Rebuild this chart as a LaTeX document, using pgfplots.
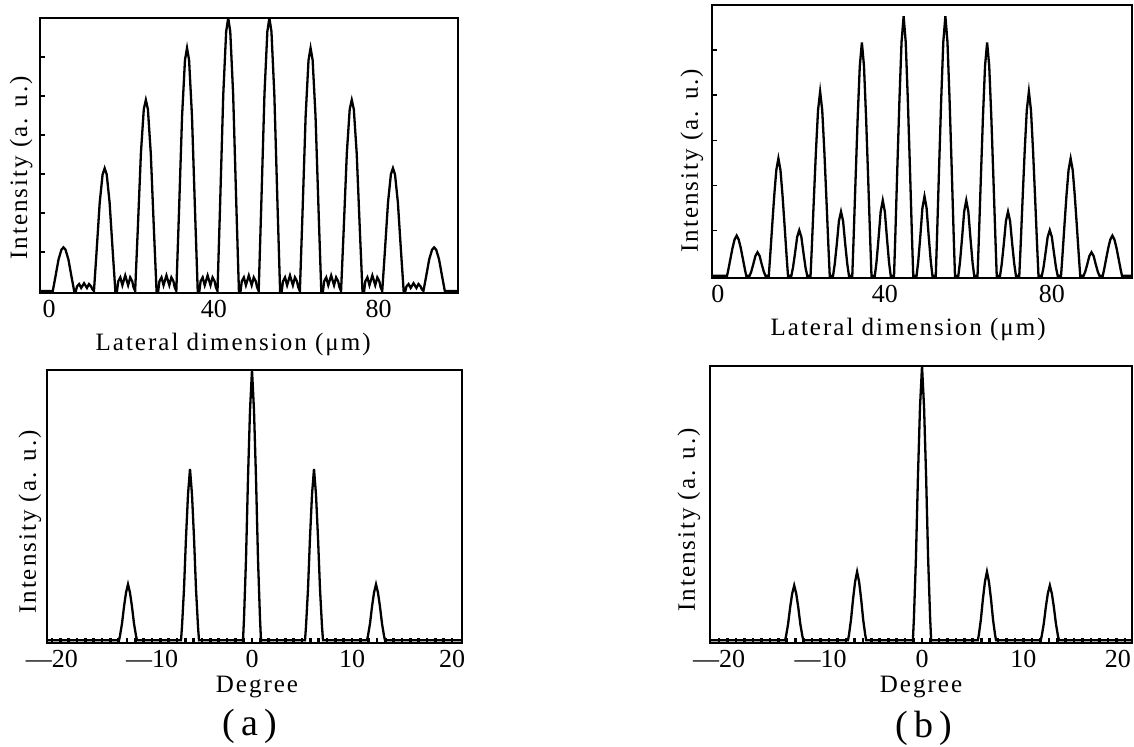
\documentclass[border=0pt]{standalone}
\usepackage{pgfplots}
\pgfplotsset{compat=1.18}
\usepackage{fontspec}
\setmainfont{Liberation Serif}
\newfontfamily\lblfont[LetterSpace=8]{Liberation Serif}
\pgfplotsset{
  panel/.style={
    scale only axis, anchor=south west,
    axis line style={line width=1.4pt},
    tick align=inside, tick pos=left,
    every tick/.style={black, line width=0.8pt},
    major tick length=2.5pt, minor tick length=2.5pt,
    tick label style={font=\fontsize{13}{13}\selectfont},
    label style={font=\lblfont\fontsize{12.5}{13}\selectfont},
    clip=true,
  },
  degpanel/.style={
    every minor tick/.style={black, line width=1.3pt},
    every major tick/.style={black, line width=1.3pt},
  },
  curve/.style={black, line width=1.15pt, no marks},
}
\begin{document}
\begin{tikzpicture}
\path[use as bounding box] (0,0) rectangle (567pt,373pt);

% ---------------- top left ----------------
\begin{axis}[panel, at={(20pt,226.5pt)}, width=209pt, height=137.5pt,
  xmin=-2.2, xmax=99.3, ymin=-0.05, ymax=7,
  xtick={0,40,80}, xticklabels={0,40,80}, x tick style={draw=none},
  ytick={1,2,3,4,5,6}, yticklabels={},
  xlabel={Lateral dimension (μm)},
  ylabel={Intensity (a. u.)},
  x label style={at={(axis description cs:0.462,0)}, anchor=center, yshift=-25.5pt},
  y label style={at={(axis description cs:-0.045,0.455)}, anchor=center},
]
\addplot[curve] coordinates {
(-2.2,0)
(0.9,0)(1.5,0.34)(2.3,0.81)(3,1.06)(3.5,1.12)(4,1.06)(4.7,0.81)(5.5,0.34)(6.1,0)
(6.5,0)(6.8,0.12)(7.3,0.18)(7.8,0.08)(8.5,0.2)(9.2,0.08)(9.7,0.18)(10.2,0.12)(10.5,0.05)
(10.9,0)(11.5,0.95)(12.3,2.27)(13,2.99)(13.5,3.15)(14,2.99)(14.7,2.27)(15.5,0.95)(16.1,0)
(16.5,0)(16.8,0.25)(17.3,0.35)(17.8,0.15)(18.5,0.4)(19.2,0.15)(19.7,0.35)(20.2,0.25)(20.5,0.1)
(20.9,0)(21.5,1.47)(22.3,3.53)(23,4.66)(23.5,4.9)(24,4.66)(24.7,3.53)(25.5,1.47)(26.1,0)
(26.5,0)(26.8,0.25)(27.3,0.35)(27.8,0.15)(28.5,0.4)(29.2,0.15)(29.7,0.35)(30.2,0.25)(30.5,0.1)
(30.9,0)(31.5,1.87)(32.3,4.49)(33,5.92)(33.5,6.23)(34,5.92)(34.7,4.49)(35.5,1.87)(36.1,0)
(36.5,0)(36.8,0.25)(37.3,0.35)(37.8,0.15)(38.5,0.4)(39.2,0.15)(39.7,0.35)(40.2,0.25)(40.5,0.1)
(40.9,0)(41.5,2.1)(42.3,5.04)(43,6.65)(43.5,7)(44,6.65)(44.7,5.04)(45.5,2.1)(46.1,0)
(46.5,0)(46.8,0.25)(47.3,0.35)(47.8,0.15)(48.5,0.4)(49.2,0.15)(49.7,0.35)(50.2,0.25)(50.5,0.1)
(50.9,0)(51.5,2.1)(52.3,5.04)(53,6.65)(53.5,7)(54,6.65)(54.7,5.04)(55.5,2.1)(56.1,0)
(56.5,0)(56.8,0.25)(57.3,0.35)(57.8,0.15)(58.5,0.4)(59.2,0.15)(59.7,0.35)(60.2,0.25)(60.5,0.1)
(60.9,0)(61.5,1.87)(62.3,4.49)(63,5.92)(63.5,6.23)(64,5.92)(64.7,4.49)(65.5,1.87)(66.1,0)
(66.5,0)(66.8,0.25)(67.3,0.35)(67.8,0.15)(68.5,0.4)(69.2,0.15)(69.7,0.35)(70.2,0.25)(70.5,0.1)
(70.9,0)(71.5,1.47)(72.3,3.53)(73,4.66)(73.5,4.9)(74,4.66)(74.7,3.53)(75.5,1.47)(76.1,0)
(76.5,0)(76.8,0.25)(77.3,0.35)(77.8,0.15)(78.5,0.4)(79.2,0.15)(79.7,0.35)(80.2,0.25)(80.5,0.1)
(80.9,0)(81.5,0.95)(82.3,2.27)(83,2.99)(83.5,3.15)(84,2.99)(84.7,2.27)(85.5,0.95)(86.1,0)
(86.5,0)(86.8,0.12)(87.3,0.18)(87.8,0.08)(88.5,0.2)(89.2,0.08)(89.7,0.18)(90.2,0.12)(90.5,0.05)
(90.9,0)(91.5,0.34)(92.3,0.81)(93,1.06)(93.5,1.12)(94,1.06)(94.7,0.81)(95.5,0.34)(96.1,0)
(99.3,0)
};
\end{axis}

% ---------------- top right ----------------
\begin{axis}[panel, at={(356pt,234pt)}, width=210pt, height=136.5pt,
  xmin=-1.4, xmax=99.2, ymin=-0.05, ymax=6,
  xtick={0,40,80}, xticklabels={0,40,80}, x tick style={draw=none},
  ytick={1,2,3,4,5}, yticklabels={},
  xlabel={Lateral dimension (μm)},
  ylabel={Intensity (a. u.)},
  x label style={at={(axis description cs:0.467,0)}, anchor=center, yshift=-25.5pt},
  y label style={at={(axis description cs:-0.048,0.43)}, anchor=center},
]
\addplot[curve] coordinates {
(-1.4,0)
(2.2,0)(2.5,0.13)(3,0.37)(3.5,0.61)(4,0.8)(4.5,0.89)(5,0.8)(5.5,0.61)(6,0.37)(6.5,0.13)(6.8,0)
(7.6,0)(8,0.09)(8.5,0.26)(9,0.44)(9.5,0.52)(10,0.44)(10.5,0.26)(11,0.09)(11.4,0)
(12.2,0)(12.5,0.39)(13,1.09)(13.5,1.77)(14,2.34)(14.5,2.6)(15,2.34)(15.5,1.77)(16,1.09)(16.5,0.39)(16.8,0)
(17.6,0)(18,0.18)(18.5,0.51)(19,0.86)(19.5,1.01)(20,0.86)(20.5,0.51)(21,0.18)(21.4,0)
(22.2,0)(22.5,0.61)(23,1.71)(23.5,2.77)(24,3.67)(24.5,4.08)(25,3.67)(25.5,2.77)(26,1.71)(26.5,0.61)(26.8,0)
(27.6,0)(28,0.26)(28.5,0.71)(29,1.21)(29.5,1.42)(30,1.21)(30.5,0.71)(31,0.26)(31.4,0)
(32.2,0)(32.5,0.78)(33,2.17)(33.5,3.52)(34,4.65)(34.5,5.17)(35,4.65)(35.5,3.52)(36,2.17)(36.5,0.78)(36.8,0)
(37.6,0)(38,0.30)(38.5,0.84)(39,1.42)(39.5,1.67)(40,1.42)(40.5,0.84)(41,0.30)(41.4,0)
(42.2,0)(42.5,0.86)(43,2.42)(43.5,3.91)(44,5.18)(44.5,5.75)(45,5.18)(45.5,3.91)(46,2.42)(46.5,0.86)(46.8,0)
(47.6,0)(48,0.32)(48.5,0.88)(49,1.5)(49.5,1.76)(50,1.5)(50.5,0.88)(51,0.32)(51.4,0)
(52.2,0)(52.5,0.86)(53,2.42)(53.5,3.91)(54,5.18)(54.5,5.75)(55,5.18)(55.5,3.91)(56,2.42)(56.5,0.86)(56.8,0)
(57.6,0)(58,0.30)(58.5,0.84)(59,1.42)(59.5,1.67)(60,1.42)(60.5,0.84)(61,0.30)(61.4,0)
(62.2,0)(62.5,0.78)(63,2.17)(63.5,3.52)(64,4.65)(64.5,5.17)(65,4.65)(65.5,3.52)(66,2.17)(66.5,0.78)(66.8,0)
(67.6,0)(68,0.26)(68.5,0.71)(69,1.21)(69.5,1.42)(70,1.21)(70.5,0.71)(71,0.26)(71.4,0)
(72.2,0)(72.5,0.61)(73,1.71)(73.5,2.77)(74,3.67)(74.5,4.08)(75,3.67)(75.5,2.77)(76,1.71)(76.5,0.61)(76.8,0)
(77.6,0)(78,0.18)(78.5,0.51)(79,0.86)(79.5,1.01)(80,0.86)(80.5,0.51)(81,0.18)(81.4,0)
(82.2,0)(82.5,0.39)(83,1.09)(83.5,1.77)(84,2.34)(84.5,2.6)(85,2.34)(85.5,1.77)(86,1.09)(86.5,0.39)(86.8,0)
(87.6,0)(88,0.09)(88.5,0.26)(89,0.44)(89.5,0.52)(90,0.44)(90.5,0.26)(91,0.09)(91.4,0)
(92.2,0)(92.5,0.13)(93,0.37)(93.5,0.61)(94,0.8)(94.5,0.89)(95,0.8)(95.5,0.61)(96,0.37)(96.5,0.13)(96.8,0)
(99.2,0)
};
\end{axis}

% ---------------- bottom left ----------------
\begin{axis}[panel, degpanel, at={(23.5pt,51.5pt)}, width=207.5pt, height=136.5pt,
  xmin=-20.5, xmax=21, ymin=-0.01, ymax=1,
  xtick={-20,-10,0,10,20}, xticklabels={—20,—10,0,10,20},
  minor x tick num=11, ytick=\empty,
  xlabel={Degree},
  ylabel={Intensity (a. u.)},
  x label style={at={(axis description cs:0.506,0)}, anchor=center, yshift=-22pt},
  y label style={at={(axis description cs:-0.041,0.443)}, anchor=center},
]
\addplot[curve] coordinates {
(-20.5,0)
(-13.3,0)(-13.2,0.017)(-13.0,0.062)(-12.8,0.124)(-12.6,0.176)(-12.4,0.207)(-12.2,0.176)(-12.0,0.124)(-11.8,0.062)(-11.6,0.017)(-11.5,0)
(-7.1,0)(-7.0,0.051)(-6.8,0.19)(-6.6,0.38)(-6.4,0.539)(-6.2,0.634)(-6.0,0.539)(-5.8,0.38)(-5.6,0.19)(-5.4,0.051)(-5.3,0)
(-0.9,0)(-0.8,0.08)(-0.6,0.3)(-0.4,0.6)(-0.2,0.85)(0,1)(0.2,0.85)(0.4,0.6)(0.6,0.3)(0.8,0.08)(0.9,0)
(5.3,0)(5.4,0.051)(5.6,0.19)(5.8,0.38)(6.0,0.539)(6.2,0.634)(6.4,0.539)(6.6,0.38)(6.8,0.19)(7.0,0.051)(7.1,0)
(11.5,0)(11.6,0.017)(11.8,0.062)(12.0,0.124)(12.2,0.176)(12.4,0.207)(12.6,0.176)(12.8,0.124)(13.0,0.062)(13.2,0.017)(13.3,0)
(21,0)
};
\end{axis}

% ---------------- bottom right ----------------
\begin{axis}[panel, degpanel, at={(355pt,51.5pt)}, width=211pt, height=138.5pt,
  xmin=-20.9, xmax=20.7, ymin=-0.01, ymax=1,
  xtick={-20,-10,0,10,20}, xticklabels={—20,—10,0,10,20\hspace*{7pt}},
  minor x tick num=11, ytick=\empty,
  xlabel={Degree},
  ylabel={Intensity (a. u.)},
  x label style={at={(axis description cs:0.5,0)}, anchor=center, yshift=-22pt},
  y label style={at={(axis description cs:-0.05,0.444)}, anchor=center},
]
\addplot[curve] coordinates {
(-20.9,0)
(-13.5,0)(-13.4,0.016)(-13.2,0.06)(-13.0,0.12)(-12.8,0.17)(-12.6,0.2)(-12.4,0.17)(-12.2,0.12)(-12.0,0.06)(-11.8,0.016)(-11.7,0)
(-7.3,0)(-7.2,0.02)(-7.0,0.075)(-6.8,0.15)(-6.6,0.2125)(-6.4,0.25)(-6.2,0.2125)(-6.0,0.15)(-5.8,0.075)(-5.6,0.02)(-5.5,0)
(-0.9,0)(-0.8,0.08)(-0.6,0.3)(-0.4,0.6)(-0.2,0.85)(0,1)(0.2,0.85)(0.4,0.6)(0.6,0.3)(0.8,0.08)(0.9,0)
(5.5,0)(5.6,0.02)(5.8,0.075)(6.0,0.15)(6.2,0.2125)(6.4,0.25)(6.6,0.2125)(6.8,0.15)(7.0,0.075)(7.2,0.02)(7.3,0)
(11.7,0)(11.8,0.016)(12.0,0.06)(12.2,0.12)(12.4,0.17)(12.6,0.2)(12.8,0.17)(13.0,0.12)(13.2,0.06)(13.4,0.016)(13.5,0)
(20.7,0)
};
\end{axis}

\node[font=\fontsize{19}{19}\selectfont] at (125pt,10pt) {(\,a\,)};
\node[font=\fontsize{19}{19}\selectfont] at (462pt,9pt) {(\,b\,)};
\end{tikzpicture}
\end{document}
